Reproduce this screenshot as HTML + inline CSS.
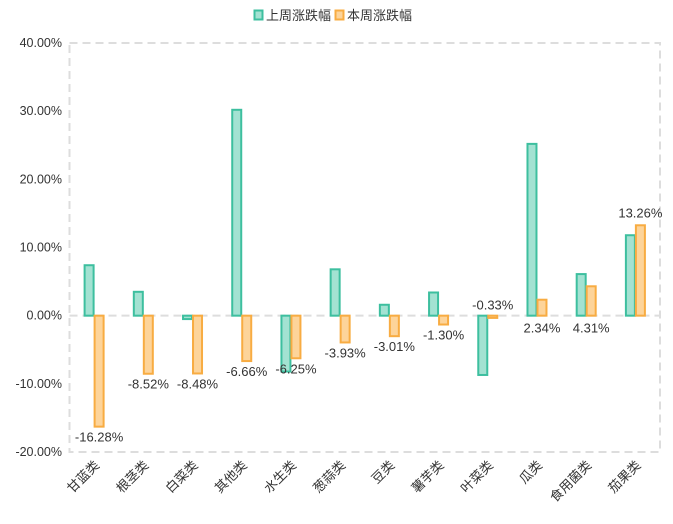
<!DOCTYPE html>
<html><head><meta charset="utf-8"><style>
body{margin:0;background:#fff;}
svg text{font-family:"Liberation Sans","Noto Sans CJK SC",sans-serif;fill:#333;}
</style></head><body>
<svg id="chart" width="673" height="519" xmlns="http://www.w3.org/2000/svg">
<g id="legend">
  <g>
    <rect x="254.5" y="10.5" width="8" height="9" fill="#a3e2d2" stroke="#3dbf9f" stroke-width="2"/>
    <text x="266" y="20" font-size="13">上周涨跌幅</text>
  </g>
  <g>
    <rect x="335.5" y="10.5" width="8" height="9" fill="#fdd49a" stroke="#f8ac42" stroke-width="2"/>
    <text x="347" y="20" font-size="13">本周涨跌幅</text>
  </g>
</g>
<g id="grid"></g><g id="bars"></g><g id="labels"></g>
</svg>
<script>
const categories=["甘蓝类","根茎类","白菜类","其他类","水生类","葱蒜类","豆类","薯芋类","叶菜类","瓜类","食用菌类","茄果类"];
const lastWeek=[7.4,3.5,-0.5,30.2,-8.2,6.8,1.6,3.4,-8.7,25.2,6.1,11.8];
const thisWeek=[-16.28,-8.52,-8.48,-6.66,-6.25,-3.93,-3.01,-1.30,-0.33,2.34,4.31,13.26];
const yTicks=[40,30,20,10,0,-10,-20];
const NS="http://www.w3.org/2000/svg";
const L=69.5,R=660,T=43,B=452,yMax=40,yMin=-20;
const band=(R-L)/categories.length;
function y(v){return T+(yMax-v)/(yMax-yMin)*(B-T);}
function xc(i){return L+band*(i+0.5);}
function mk(tag,attrs,parent){const e=document.createElementNS(NS,tag);for(const k in attrs)e.setAttribute(k,attrs[k]);parent.appendChild(e);return e;}
const grid=document.getElementById('grid'),bars=document.getElementById('bars'),labels=document.getElementById('labels');
// frame
const fr=mk('rect',{x:L,y:T,width:R-L,height:B-T,fill:'none',stroke:'#ddd','stroke-width':2,'stroke-dasharray':'8,5'},grid);


const zl=mk('line',{x1:L,x2:R,y1:y(0),y2:y(0),stroke:'#ddd','stroke-width':2,'stroke-dasharray':'8,5'},grid);


yTicks.forEach(t=>{
  const tx=mk('text',{x:62,y:y(t)+4,'font-size':12.5,'text-anchor':'end'},grid);
  tx.textContent=t.toFixed(2)+'%';
  
  
});
categories.forEach((c,i)=>{
  const cx=xc(i);
  const tx=mk('text',{x:0,y:0,'font-size':13,'text-anchor':'end',transform:`translate(${cx+6},${466}) rotate(-45)`,fill:'#333'},grid);
  tx.textContent=c;
  
  
  const v1=lastWeek[i],v2=thisWeek[i];
  const b1=mk('rect',{x:cx-9.5,y:Math.min(y(v1),y(0)),width:9,height:Math.max(Math.abs(y(v1)-y(0)),1),fill:'#a3e2d2',stroke:'#3dbf9f','stroke-width':2},bars);
  
  
  const b2=mk('rect',{x:cx+0.5,y:Math.min(y(v2),y(0)),width:9,height:Math.max(Math.abs(y(v2)-y(0)),1),fill:'#fdd49a',stroke:'#f8ac42','stroke-width':2},bars);
  
  
  let ly;
  if(v2<0&&v2>-1) ly=y(0)-6;
  else if(v2>0&&v2<5) ly=y(0)+17;
  else if(v2<0) ly=y(v2)+15;
  else ly=y(v2)-8;
  const lt=mk('text',{x:cx+5,y:ly,'font-size':13,'text-anchor':'middle'},labels);
  lt.textContent=v2.toFixed(2)+'%';
  
  
});
</script>
</body></html>
